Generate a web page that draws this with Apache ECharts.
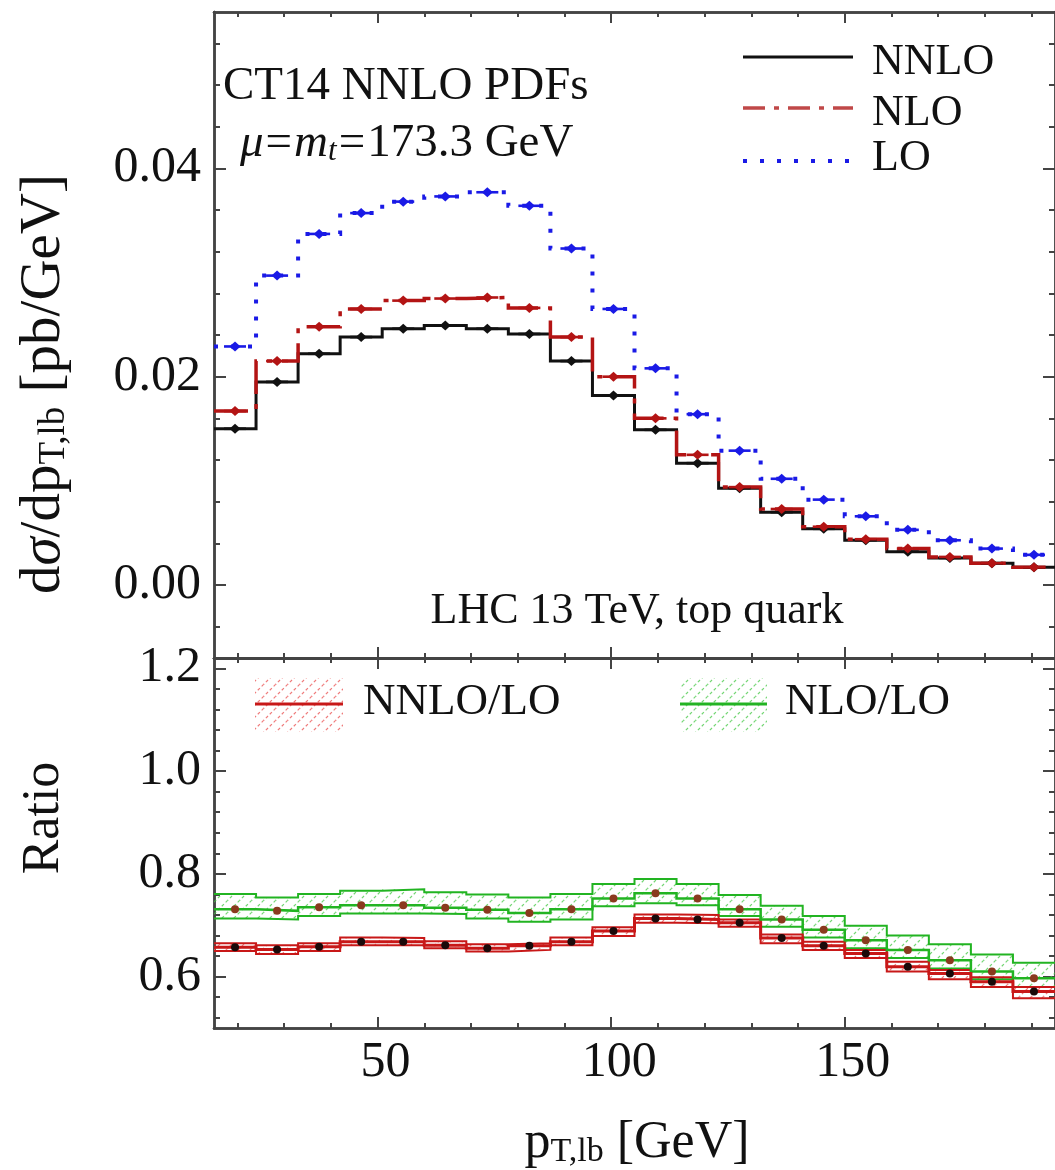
<!DOCTYPE html>
<html><head><meta charset="utf-8">
<script src="https://cdn.jsdelivr.net/npm/echarts@6/dist/echarts.min.js"></script>
<style>html,body{margin:0;padding:0;background:#fff}#c{width:1055px;height:1170px}</style>
</head><body><div id="c"></div>
<script>
// ---------- data ----------
const binEdges = [15,24,33,42,51,60,69,78,87,96,105,114,123,132,141,150,159,168,177,186,195];
const nnlo = [0.0150,0.0195,0.0222,0.0238,0.0246,0.0249,0.0246,0.0241,0.0215,0.0182,0.0149,0.0117,0.0093,0.0070,0.0054,0.0043,0.0032,0.0026,0.0021,0.0017];
const nlo  = [0.0167,0.0215,0.0248,0.0265,0.0273,0.0275,0.0276,0.0266,0.0238,0.0200,0.0160,0.0125,0.0094,0.0073,0.0056,0.0044,0.0035,0.0027,0.0021,0.0017];
const lo   = [0.0229,0.0297,0.0337,0.0357,0.0368,0.0373,0.0377,0.0364,0.0323,0.0265,0.0208,0.0164,0.0129,0.0102,0.0082,0.0066,0.0053,0.0043,0.0035,0.0029];
const ratioNLO      = [0.731,0.728,0.735,0.739,0.739,0.734,0.730,0.724,0.731,0.752,0.762,0.752,0.731,0.711,0.691,0.671,0.652,0.632,0.610,0.597];
const ratioNLOHigh  = [0.761,0.754,0.761,0.767,0.770,0.764,0.760,0.754,0.761,0.780,0.790,0.780,0.759,0.738,0.718,0.699,0.680,0.663,0.643,0.627];
const ratioNLOLow   = [0.713,0.711,0.718,0.723,0.723,0.722,0.713,0.707,0.711,0.737,0.743,0.739,0.718,0.697,0.676,0.655,0.636,0.616,0.595,0.580];
const ratioNNLO     = [0.657,0.653,0.658,0.668,0.668,0.661,0.655,0.660,0.668,0.689,0.713,0.711,0.705,0.675,0.660,0.645,0.619,0.606,0.590,0.571];
const ratioNNLOHigh = [0.665,0.661,0.665,0.676,0.675,0.669,0.663,0.665,0.676,0.696,0.721,0.720,0.711,0.682,0.668,0.652,0.629,0.613,0.599,0.580];
const ratioNNLOLow  = [0.650,0.644,0.650,0.661,0.661,0.655,0.649,0.652,0.661,0.679,0.705,0.704,0.697,0.665,0.652,0.636,0.610,0.595,0.580,0.558];
const xMajorTicks = [50,100,150];
const xMinorTicks = [20,30,40,60,70,80,90,110,120,130,140,160,170,180,190];
const topMajorTicks = [0,0.02,0.04];
const topMinorTicks = [-0.004,0.004,0.008,0.012,0.016,0.024,0.028,0.032,0.036,0.044,0.048,0.052];
const ratioMajorTicks = [0.6,0.8,1.0,1.2];
const ratioMinorTicks = [0.52,0.56,0.64,0.68,0.72,0.76,0.84,0.88,0.92,0.96,1.04,1.08,1.12,1.16];

// ---------- helpers ----------
const SERIF = '"Liberation Serif","Times New Roman",serif';
const AX = '#444';
function stepData(vals){const d=[];vals.forEach((v,i)=>{d.push([binEdges[i],v]);d.push([binEdges[i+1],v]);});return d;}
function centerData(vals){return vals.map((v,i)=>[(binEdges[i]+binEdges[i+1])/2,v]);}
function bandData(lowV,highV){return lowV.map((v,i)=>[binEdges[i],binEdges[i+1],v,highV[i]]);}
function hatch(color){
  const c=document.createElement('canvas');c.width=12;c.height=12;
  const g=c.getContext('2d');g.strokeStyle=color;g.lineWidth=1.2;g.setLineDash([3,2.5]);
  g.beginPath();g.moveTo(-2,14);g.lineTo(14,-2);g.stroke();
  g.beginPath();g.moveTo(-8,8);g.lineTo(8,-8);g.stroke();
  g.beginPath();g.moveTo(4,20);g.lineTo(20,4);g.stroke();
  return {image:c,repeat:'repeat'};
}
const greenHatch = hatch('rgba(70,200,70,0.75)');
const redHatch = hatch('rgba(235,90,90,0.8)');

function xAx(grid,pos,ticks,len,labels){
  return {type:'value',gridIndex:grid,position:pos,min:15,max:195,
    axisLine:{show:true,onZero:false,lineStyle:{color:AX,width:2.5}},
    axisTick:{show:true,inside:true,length:len,customValues:ticks,lineStyle:{color:AX,width:2}},
    axisLabel:labels?{show:true,customValues:ticks,margin:10,padding:[0,0,0,16],fontFamily:SERIF,fontSize:50,color:'#111'}:{show:false},
    splitLine:{show:false}};
}
function yAx(grid,pos,min,max,ticks,len,labels,fmt){
  return {type:'value',gridIndex:grid,position:pos,min:min,max:max,
    axisLine:{show:true,onZero:false,lineStyle:{color:AX,width:2.5}},
    axisTick:{show:true,inside:true,length:len,customValues:ticks,lineStyle:{color:AX,width:2}},
    axisLabel:labels?{show:true,customValues:ticks,margin:13,fontFamily:SERIF,fontSize:50,color:'#111',formatter:fmt}:{show:false},
    splitLine:{show:false}};
}
const topMin=-0.007, topMax=0.055, botMin=0.5, botMax=1.22;
const fmt2=v=>v.toFixed(2), fmt1=v=>v.toFixed(1);

function band(data,fill,xi,yi){
  return {type:'custom',xAxisIndex:xi,yAxisIndex:yi,data:data,silent:true,clip:true,z:1,
    encode:{x:[0,1],y:[2,3]},
    renderItem:function(params,api){
      const p1=api.coord([api.value(0),api.value(3)]);
      const p2=api.coord([api.value(1),api.value(2)]);
      return {type:'rect',shape:{x:p1[0],y:p1[1],width:p2[0]-p1[0],height:p2[1]-p1[1]},style:{fill:fill}};
    }};
}
// point marker with short horizontal bar (drawn through the library's coordinate system)
function markers(vals,color,xi,yi){
  return {type:'custom',xAxisIndex:xi,yAxisIndex:yi,data:centerData(vals),silent:true,clip:true,z:6,
    encode:{x:0,y:1},
    renderItem:function(params,api){
      const p=api.coord([api.value(0),api.value(1)]);
      return {type:'group',children:[
        {type:'rect',shape:{x:p[0]-11,y:p[1]-1.3,width:22,height:2.6},style:{fill:color}},
        {type:'polygon',shape:{points:[[p[0],p[1]-5],[p[0]+5.5,p[1]],[p[0],p[1]+5],[p[0]-5.5,p[1]]]},style:{fill:color}}
      ]};
    }};
}
function stepLine(vals,color,width,dash,xi,yi,z){
  return {type:'line',xAxisIndex:xi,yAxisIndex:yi,data:stepData(vals),showSymbol:false,symbol:'none',
    clip:true,z:z||2,silent:true,lineStyle:{color:color,width:width,type:dash||'solid',cap:'butt',join:'miter'}};
}
function pts(vals,color,symbol,size,xi,yi){
  return {type:'scatter',xAxisIndex:xi,yAxisIndex:yi,data:centerData(vals),symbol:symbol,symbolSize:size,
    z:5,silent:true,itemStyle:{color:color,opacity:1}};
}

const RED='#b31414', BLUE='#1a1ae6', BLACK='#111', GREEN='#22b422', RRED='#c81818';

const option={
  animation:false,
  backgroundColor:'#fff',
  grid:[
    {left:214,top:12,right:-8,height:646,containLabel:false},
    {left:214,top:658,right:-8,height:370,containLabel:false}
  ],
  xAxis:[
    xAx(0,'bottom',xMajorTicks,11,false), xAx(0,'bottom',xMinorTicks,5,false),
    xAx(0,'top',xMajorTicks,11,false), xAx(0,'top',xMinorTicks,5,false),
    xAx(1,'bottom',xMajorTicks,11,true), xAx(1,'bottom',xMinorTicks,5,false),
    xAx(1,'top',xMajorTicks,11,false), xAx(1,'top',xMinorTicks,5,false)
  ],
  yAxis:[
    yAx(0,'left',topMin,topMax,topMajorTicks,12,true,fmt2), yAx(0,'left',topMin,topMax,topMinorTicks,6,false),
    yAx(0,'right',topMin,topMax,topMajorTicks,12,false), yAx(0,'right',topMin,topMax,topMinorTicks,6,false),
    yAx(1,'left',botMin,botMax,ratioMajorTicks,12,true,fmt1), yAx(1,'left',botMin,botMax,ratioMinorTicks,6,false),
    yAx(1,'right',botMin,botMax,ratioMajorTicks,12,false), yAx(1,'right',botMin,botMax,ratioMinorTicks,6,false)
  ],
  series:[
    stepLine(lo,BLUE,4,[4,13],0,0,2),
    stepLine(nnlo,BLACK,3,'solid',0,0,3),
    stepLine(nlo,RED,3.5,[34,10,5,10],0,0,4),
    markers(lo,BLUE,0,0),
    markers(nnlo,BLACK,0,0),
    markers(nlo,RED,0,0),

    band(bandData(ratioNLOLow,ratioNLOHigh),greenHatch,4,4),
    band(bandData(ratioNNLOLow,ratioNNLOHigh),redHatch,4,4),
    stepLine(ratioNLOHigh,GREEN,2,'solid',4,4,2),
    stepLine(ratioNLOLow,GREEN,2,'solid',4,4,2),
    stepLine(ratioNLO,GREEN,2.5,'solid',4,4,3),
    stepLine(ratioNNLOHigh,RRED,2,'solid',4,4,2),
    stepLine(ratioNNLOLow,RRED,2,'solid',4,4,2),
    stepLine(ratioNNLO,RRED,3,'solid',4,4,3),
    pts(ratioNLO,'#8a3a1e','circle',8,4,4),
    pts(ratioNNLO,'#1a0a0a','circle',8,4,4)
  ],
  graphic:[
    // top legend
    {type:'line',shape:{x1:743,y1:57,x2:853,y2:57},style:{stroke:BLACK,lineWidth:3}},
    {type:'line',shape:{x1:743,y1:108,x2:853,y2:108},style:{stroke:'#c04848',lineWidth:3.5,lineDash:[22,9,5,9]}},
    {type:'line',shape:{x1:743,y1:161,x2:853,y2:161},style:{stroke:BLUE,lineWidth:4,lineDash:[4,13]}},
    {type:'text',x:872,y:62,style:{text:'NNLO',font:'44px '+SERIF,fill:'#111',textVerticalAlign:'middle'}},
    {type:'text',x:872,y:113,style:{text:'NLO',font:'44px '+SERIF,fill:'#111',textVerticalAlign:'middle'}},
    {type:'text',x:872,y:158,style:{text:'LO',font:'44px '+SERIF,fill:'#111',textVerticalAlign:'middle'}},
    // annotations
    {type:'text',x:223,y:87,style:{text:'CT14 NNLO PDFs',font:'47px '+SERIF,fill:'#111',textVerticalAlign:'middle'}},
    {type:'text',x:240,y:144,style:{text:'{i|μ}{e|=}{i|m}{s|t}{e|=}{n|173.3 GeV}',textVerticalAlign:'middle',
      rich:{i:{font:'italic 47px '+SERIF,fill:'#111'},n:{font:'47px '+SERIF,fill:'#111'},e:{font:'47px '+SERIF,fill:'#111',padding:[0,2,0,2]},s:{font:'italic 31px '+SERIF,fill:'#111',verticalAlign:'bottom'}}}},
    {type:'text',x:637,y:611,style:{text:'LHC 13 TeV, top quark',font:'44px '+SERIF,fill:'#111',textAlign:'center',textVerticalAlign:'middle'}},
    // bottom legend
    {type:'rect',shape:{x:255,y:678,width:88,height:54},style:{fill:redHatch}},
    {type:'line',shape:{x1:255,y1:704,x2:343,y2:704},style:{stroke:RRED,lineWidth:3}},
    {type:'text',x:363,y:702,style:{text:'NNLO/LO',font:'45px '+SERIF,fill:'#111',textVerticalAlign:'middle'}},
    {type:'rect',shape:{x:680,y:678,width:87,height:54},style:{fill:greenHatch}},
    {type:'line',shape:{x1:680,y1:704,x2:767,y2:704},style:{stroke:GREEN,lineWidth:3}},
    {type:'text',x:785,y:702,style:{text:'NLO/LO',font:'45px '+SERIF,fill:'#111',textVerticalAlign:'middle'}},
    // axis titles
    {type:'text',x:44,y:384,rotation:Math.PI/2,style:{text:'{n|d}{g|σ}{n|/dp}{s|T,lb}{n| [pb/GeV]}',textAlign:'center',textVerticalAlign:'middle',
      rich:{n:{font:'57px '+SERIF,fill:'#111'},g:{font:'italic 57px '+SERIF,fill:'#111'},s:{font:'37px '+SERIF,fill:'#111',verticalAlign:'bottom'}}}},
    {type:'text',x:44,y:818,rotation:Math.PI/2,style:{text:'Ratio',font:'52px '+SERIF,fill:'#111',textAlign:'center',textVerticalAlign:'middle'}},
    {type:'text',x:637,y:1143,style:{text:'{n|p}{s|T,lb}{n| [GeV]}',textAlign:'center',textVerticalAlign:'middle',
      rich:{n:{font:'52px '+SERIF,fill:'#111'},s:{font:'34px '+SERIF,fill:'#111',verticalAlign:'bottom'}}}}
  ]
};
const chart=echarts.init(document.getElementById('c'),null,{renderer:'canvas'});
chart.setOption(option);
</script></body></html>
